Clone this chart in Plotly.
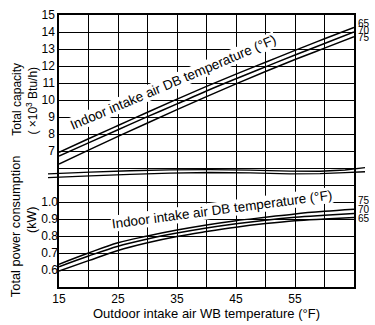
import plotly.graph_objects as go

# Outdoor intake air WB temperature (°F)
wb_temp = [15, 20, 25, 30, 35, 40, 45, 50, 55, 60, 65]

# Total capacity (x10^3 Btu/h) for indoor intake air DB temperature 65/70/75 °F
capacity_db65 = [6.92, 7.72, 8.50, 9.28, 10.05, 10.80, 11.52, 12.22, 12.92, 13.60, 14.27]
capacity_db70 = [6.70, 7.48, 8.25, 9.02, 9.77, 10.53, 11.25, 11.95, 12.65, 13.32, 14.00]
capacity_db75 = [6.23, 7.05, 7.86, 8.65, 9.43, 10.20, 10.95, 11.68, 12.38, 13.05, 13.72]

# Total power consumption (kW) for indoor intake air DB temperature 65/70/75 °F
power_db65 = [0.594, 0.655, 0.715, 0.760, 0.797, 0.826, 0.852, 0.873, 0.890, 0.900, 0.909]
power_db70 = [0.619, 0.682, 0.740, 0.782, 0.817, 0.847, 0.872, 0.893, 0.910, 0.922, 0.933]
power_db75 = [0.634, 0.700, 0.760, 0.800, 0.835, 0.865, 0.890, 0.910, 0.930, 0.945, 0.957]

db_labels = ["65", "70", "75"]
capacity_label_y = [14.51, 14.06, 13.65]
power_label_y = [0.903, 0.956, 1.007]

x_labels = [15, 25, 35, 45, 55]
x_grid = [20, 30, 40, 50, 60]
cap_labels = list(range(7, 16))
cap_grid = list(range(0, 7))
pow_labels = [0.6, 0.7, 0.8, 0.9, 1.0]

FONT = "Liberation Sans, Arial, sans-serif"
LINE = dict(color="black", width=1.5)
GRID = dict(gridcolor="black", gridwidth=1.3)

fig = go.Figure()
for ys in (capacity_db65, capacity_db70, capacity_db75):
    fig.add_trace(go.Scatter(x=wb_temp, y=ys, mode="lines", line_shape="spline",
                             line=LINE, yaxis="y", showlegend=False, hoverinfo="skip"))
for ys in (power_db65, power_db70, power_db75):
    fig.add_trace(go.Scatter(x=wb_temp, y=ys, mode="lines", line_shape="spline",
                             line=LINE, yaxis="y2", showlegend=False, hoverinfo="skip"))

W, H = 375, 325
ML, MR, MT, MB = 59, 21, 8, 31
PW, PH = W - ML - MR, H - MT - MB


def px(xp, yp):
    """Pixel position -> paper coordinates."""
    return (xp - ML) / PW, 1 - (yp - MT) / PH


def path(points):
    pts = [px(a, b) for a, b in points]
    d = "M{:.4f},{:.4f}".format(*pts[0])
    for p in pts[1:]:
        d += " L{:.4f},{:.4f}".format(*p)
    return d


# axis break: two wavy strokes across the chart
break_upper = [(48, 175), (90, 173.3), (130, 171.8), (170, 170.8), (210, 170.6), (250, 171.2),
               (290, 172.2), (320, 172.3), (345, 171), (365, 168.5)]
break_lower = [(48, 179), (90, 177.2), (130, 175.5), (170, 174.2), (210, 173.6), (250, 174),
               (290, 175), (320, 174.8), (345, 173.8), (365, 172.8)]
shapes = [dict(type="path", xref="paper", yref="paper", path=path(b),
               line=dict(color="black", width=1.3), layer="above")
          for b in (break_upper, break_lower)]

annotations = []
# curve captions
annotations.append(dict(x=34.3, y=11.04, xref="x", yref="y", text="Indoor intake air DB temperature (°F)",
                        textangle=-23, showarrow=False, bgcolor="white", borderpad=0,
                        font=dict(family=FONT, size=13.5, color="black")))
annotations.append(dict(x=42.6, y=0.9535, xref="x", yref="y2", text="Indoor intake air DB temperature (°F)",
                        textangle=-7.5, showarrow=False, bgcolor="white", borderpad=0,
                        font=dict(family=FONT, size=13.5, color="black")))
# DB temperature labels at the right end of the curves
for lab, yv in zip(db_labels, capacity_label_y):
    annotations.append(dict(x=65, y=yv, xref="x", yref="y", text=lab, showarrow=False,
                            xanchor="left", xshift=2, font=dict(family=FONT, size=10, color="black")))
for lab, yv in zip(db_labels, power_label_y):
    annotations.append(dict(x=65, y=yv, xref="x", yref="y2", text=lab, showarrow=False,
                            xanchor="left", xshift=2, font=dict(family=FONT, size=10, color="black")))
# y axis titles
for text, xp, yp, size in [("Total capacity", 17, 97, 12),
                           ("( ×10<sup>3</sup> Btu/h)", 32, 98, 12),
                           ("Total power consumption", 15, 230, 12.8),
                           ("(kW)", 32, 223.5, 12.5)]:
    xx, yy = px(xp, yp)
    annotations.append(dict(x=xx, y=yy, xref="paper", yref="paper", text=text, textangle=-90,
                            showarrow=False, xanchor="center", yanchor="middle",
                            font=dict(family=FONT, size=size, color="black")))

fig.update_layout(
    width=W, height=H,
    margin=dict(l=ML, r=MR, t=MT, b=MB, pad=0),
    paper_bgcolor="white", plot_bgcolor="white",
    font=dict(family=FONT, size=12, color="black"),
    shapes=shapes, annotations=annotations,
    xaxis=dict(range=[15, 65], tickvals=x_labels, showgrid=True, **GRID,
               minor=dict(tickvals=x_grid, showgrid=True, **GRID, ticks=""),
               showline=True, mirror=True, linecolor="black",
               linewidth=1.5, ticks="", zeroline=False,
               title=dict(text="Outdoor intake air WB temperature (°F)", font=dict(size=13), standoff=2),
               tickfont=dict(size=12)),
    yaxis=dict(range=[-1, 15], tickvals=cap_labels, showgrid=True, **GRID,
               minor=dict(tickvals=cap_grid, showgrid=True, **GRID, ticks=""),
               showline=True, mirror=True, linecolor="black",
               linewidth=1.5, ticks="", zeroline=False, tickfont=dict(size=12)),
    yaxis2=dict(range=[0.5, 2.1], tickvals=pow_labels, tickformat=".1f", overlaying="y",
                side="left", anchor="x", showgrid=False, showline=False, ticks="", zeroline=False,
                tickfont=dict(size=12)),
)

fig.write_html("out.html")
